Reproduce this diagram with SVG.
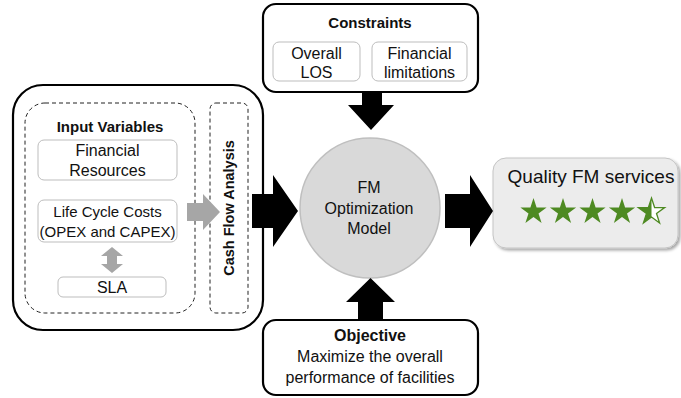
<svg xmlns="http://www.w3.org/2000/svg" width="681" height="398" viewBox="0 0 681 398">
<style>
text{font-family:"Liberation Sans",Arial,sans-serif;fill:#111;text-anchor:middle}
.t{font-size:16px}
.s{font-size:15px}
.h{font-size:15px;font-weight:bold}
.q{font-size:19px}
.cf{font-size:14.5px;font-weight:bold}
.ob{font-size:16px;font-weight:bold}
.main{fill:#fff;stroke:#000;stroke-width:2.2}
.dash{fill:none;stroke:#222;stroke-width:1;stroke-dasharray:4 3}
.sub{fill:#fff;stroke:#bdbdbd;stroke-width:1}
.blk{fill:#000}
.gry{fill:#a6a6a6}
.star{fill:#4e8a22}
</style>
<defs>
<polygon id="star" points="0,-13.8 3.1,-4.26 13.12,-4.26 5.01,1.63 8.11,11.16 0,5.27 -8.11,11.16 -5.01,1.63 -13.12,-4.26 -3.1,-4.26"/>
<clipPath id="halfL"><rect x="-20" y="-20" width="20" height="40"/></clipPath>
<filter id="sh" x="-10%" y="-10%" width="125%" height="130%"><feDropShadow dx="2" dy="2" stdDeviation="1.5" flood-color="#000" flood-opacity="0.35"/></filter>
</defs>

<g id="inputs">
<rect class="main" x="13" y="85" width="250" height="245" rx="30"/>
<rect class="dash" x="25" y="103" width="170" height="210" rx="20"/>
<text class="h" x="110" y="132">Input Variables</text>
<g id="financial-resources">
<rect class="sub" x="38" y="140" width="139" height="40" rx="6"/>
<text class="t" x="107.5" y="156">Financial</text>
<text class="t" x="107.5" y="176">Resources</text>
</g>
<g id="life-cycle-costs">
<rect class="sub" x="38" y="200" width="139" height="42" rx="6"/>
<text class="s" x="107.5" y="217">Life Cycle Costs</text>
<text class="s" x="107.5" y="237">(OPEX and CAPEX)</text>
</g>
<g id="sla">
<rect class="sub" x="58" y="277" width="108" height="20" rx="5"/>
<text class="t" x="112" y="293">SLA</text>
</g>
<g id="cash-flow-analysis">
<rect class="dash" x="210" y="103" width="38" height="210" rx="6"/>
<text class="cf" transform="translate(234,208) rotate(-90)">Cash Flow Analysis</text>
</g>
</g>

<g id="constraints">
<rect class="main" x="263" y="4" width="215" height="88" rx="13"/>
<text class="h" x="370" y="28">Constraints</text>
<g id="overall-los">
<rect class="sub" x="273" y="42" width="87" height="39" rx="6"/>
<text class="t" x="316.5" y="59">Overall</text>
<text class="t" x="316.5" y="78">LOS</text>
</g>
<g id="financial-limitations">
<rect class="sub" x="372" y="42" width="95" height="39" rx="6"/>
<text class="t" x="419.5" y="59">Financial</text>
<text class="t" x="419.5" y="78">limitations</text>
</g>
</g>

<g id="fm-model">
<circle cx="370" cy="208" r="70" fill="#d9d9d9" stroke="#bfbfbf" stroke-width="1.5"/>
<text class="t" x="369" y="193">FM</text>
<text class="t" x="369" y="213.5">Optimization</text>
<text class="t" x="369" y="234">Model</text>
</g>

<g id="objective">
<rect class="main" x="263" y="320" width="215" height="75" rx="13"/>
<text class="ob" x="370" y="341">Objective</text>
<text class="t" x="370" y="362">Maximize the overall</text>
<text class="t" x="370" y="383">performance of facilities</text>
</g>

<g id="quality">
<rect x="493" y="158" width="185" height="90" rx="13" fill="#ececec" stroke="#c4c4c4" stroke-width="1" filter="url(#sh)"/>
<text class="q" x="591" y="183">Quality FM services</text>
<use href="#star" class="star" x="533.5" y="211.8"/>
<use href="#star" class="star" x="563" y="211.8"/>
<use href="#star" class="star" x="592.5" y="211.8"/>
<use href="#star" class="star" x="622" y="211.8"/>
<g transform="translate(651.5,211.8)">
<use href="#star" fill="#fff" stroke="#4e8a22" stroke-width="1.3"/>
<use href="#star" class="star" clip-path="url(#halfL)"/>
</g>
</g>

<g id="connectors">
<polygon class="gry" points="187,203 203,203 203,194 220,212 203,230 203,221 187,221"/>
<polygon class="gry" points="112,247 123,256 117,256 117,264 123,264 112,273 101,264 107,264 107,256 101,256"/>
<polygon class="blk" points="252,194 273,194 273,175 298,211 273,247 273,228 252,228"/>
<polygon class="blk" points="445,194 470,194 470,175 493,211 470,247 470,228 445,228"/>
<polygon class="blk" points="362,92 382,92 382,105 394,105 371,130 348,105 362,105"/>
<polygon class="blk" points="358,320 383,320 383,302 395,302 370.5,278 346,302 358,302"/>
</g>
</svg>
